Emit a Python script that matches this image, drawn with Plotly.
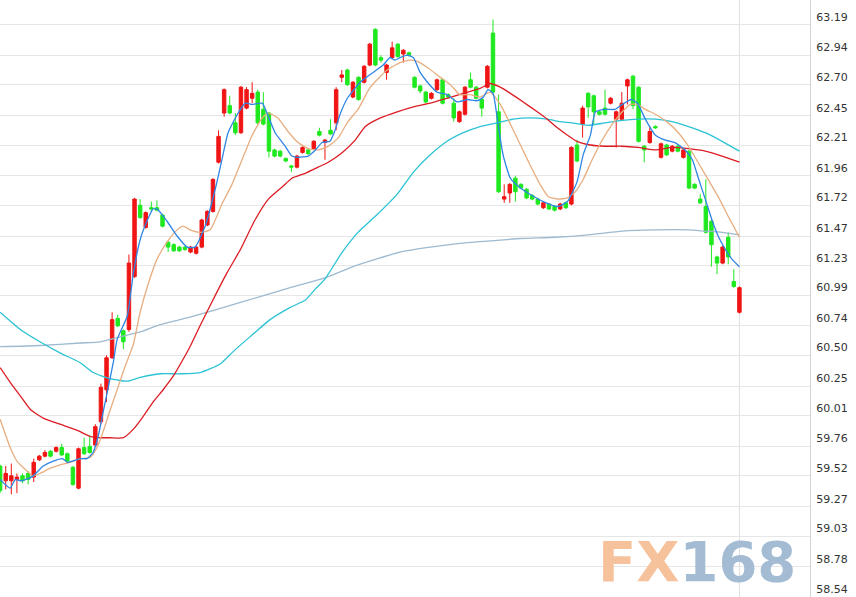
import plotly.graph_objects as go

# ---- candle data (index = candle number, oldest visible first) ----
opens = [59.60, 59.48, 59.48, 59.49, 59.52, 59.54, 59.51, 59.65, 59.68, 59.72,
         59.72, 59.75, 59.70, 59.59, 59.42, 59.75, 59.76, 59.77, 59.96, 60.22,
         60.48, 60.80, 60.70, 60.71, 61.14, 61.72, 61.54, 61.70, 61.70, 61.64,
         61.42, 61.40, 61.38, 61.38, 61.34, 61.33, 61.38, 61.56, 61.67, 62.07,
         62.47, 62.53, 62.39, 62.31, 62.51, 62.59, 62.64, 62.50, 62.47, 62.17,
         62.16, 62.10, 62.04, 62.03, 62.15, 62.17, 62.18, 62.32, 62.23, 62.33,
         62.39, 62.76, 62.82, 62.60, 62.76, 62.72, 62.86, 63.15, 62.92, 62.80,
         62.92, 63.03, 62.95, 62.96, 62.76, 62.69, 62.64, 62.59, 62.66, 62.74,
         62.62, 62.55, 62.40, 62.46, 62.74, 62.68, 62.58, 62.68, 63.12, 62.48,
         61.77, 61.82, 61.94, 61.89, 61.85, 61.80, 61.77, 61.70, 61.73, 61.71,
         61.69, 61.74, 61.73, 62.21, 62.38, 62.63, 62.61, 62.48, 62.51, 62.55,
         62.42, 62.42, 62.69, 62.77, 62.68, 62.20, 62.23, 62.36, 62.11, 62.21,
         62.16, 62.20, 62.11, 62.16, 61.89, 61.77, 61.71, 61.59, 61.30, 61.25,
         61.46, 61.10, 60.85]
highs = [59.61, 59.60, 59.62, 59.54, 59.54, 59.56, 59.66, 59.69, 59.73, 59.73,
         59.76, 59.78, 59.71, 59.60, 59.75, 59.83, 59.85, 59.94, 60.27, 60.50,
         60.85, 60.83, 60.71, 61.32, 61.78, 61.77, 61.67, 61.75, 61.76, 61.65,
         61.43, 61.41, 61.39, 61.39, 61.39, 61.39, 61.61, 61.68, 61.94, 62.33,
         62.67, 62.61, 62.47, 62.69, 62.68, 62.72, 62.66, 62.64, 62.48, 62.18,
         62.17, 62.11, 62.05, 62.13, 62.20, 62.18, 62.25, 62.35, 62.26, 62.42,
         62.68, 62.82, 62.83, 62.73, 62.77, 62.86, 63.04, 63.16, 62.94, 62.87,
         63.05, 63.04, 62.99, 62.97, 62.77, 62.70, 62.65, 62.64, 62.75, 62.75,
         62.63, 62.59, 62.49, 62.69, 62.80, 62.69, 62.59, 62.86, 63.23, 62.62,
         61.89, 61.90, 61.96, 61.90, 61.86, 61.81, 61.78, 61.75, 61.73, 61.72,
         61.74, 61.75, 62.20, 62.25, 62.53, 62.64, 62.62, 62.49, 62.66, 62.60,
         62.49, 62.64, 62.75, 62.78, 62.69, 62.21, 62.36, 62.37, 62.23, 62.22,
         62.21, 62.21, 62.18, 62.17, 61.90, 61.81, 61.93, 61.60, 61.31, 61.39,
         61.50, 61.20, 61.06]
lows = [59.38, 59.41, 59.37, 59.38, 59.46, 59.45, 59.47, 59.64, 59.67, 59.67,
        59.71, 59.68, 59.62, 59.44, 59.41, 59.69, 59.70, 59.76, 59.94, 60.12,
        60.47, 60.73, 60.55, 60.69, 61.13, 61.61, 61.53, 61.67, 61.67, 61.54,
        61.34, 61.34, 61.34, 61.35, 61.33, 61.32, 61.37, 61.55, 61.66, 62.06,
        62.44, 62.46, 62.29, 62.30, 62.50, 62.55, 62.38, 62.37, 62.11, 62.11,
        62.11, 62.07, 61.99, 62.02, 62.14, 62.13, 62.17, 62.28, 62.09, 62.29,
        62.33, 62.72, 62.69, 62.59, 62.57, 62.71, 62.85, 62.85, 62.88, 62.74,
        62.91, 62.92, 62.88, 62.93, 62.67, 62.63, 62.55, 62.58, 62.65, 62.54,
        62.59, 62.40, 62.39, 62.45, 62.67, 62.58, 62.44, 62.67, 62.63, 61.82,
        61.74, 61.74, 61.75, 61.85, 61.77, 61.76, 61.72, 61.69, 61.68, 61.67,
        61.68, 61.69, 61.72, 62.07, 62.27, 62.43, 62.38, 62.45, 62.45, 62.54,
        62.19, 62.41, 62.54, 62.50, 62.23, 62.07, 62.22, 62.34, 62.10, 62.12,
        62.15, 62.15, 62.10, 61.85, 61.85, 61.73, 61.49, 61.22, 61.16, 61.24,
        61.24, 61.05, 60.84]
closes = [59.40, 59.54, 59.52, 59.51, 59.48, 59.49, 59.63, 59.68, 59.71, 59.68,
          59.75, 59.69, 59.64, 59.45, 59.74, 59.70, 59.71, 59.92, 60.24, 60.48,
          60.79, 60.74, 60.61, 61.25, 61.77, 61.62, 61.66, 61.69, 61.68, 61.55,
          61.38, 61.35, 61.35, 61.36, 61.38, 61.38, 61.60, 61.67, 61.93, 62.28,
          62.66, 62.47, 62.31, 62.68, 62.66, 62.63, 62.39, 62.38, 62.16, 62.12,
          62.12, 62.08, 62.03, 62.12, 62.19, 62.14, 62.24, 62.29, 62.25, 62.30,
          62.66, 62.78, 62.70, 62.72, 62.58, 62.85, 63.03, 62.86, 62.90, 62.86,
          63.00, 62.93, 62.98, 62.94, 62.68, 62.65, 62.56, 62.63, 62.74, 62.55,
          62.60, 62.43, 62.48, 62.68, 62.68, 62.59, 62.51, 62.85, 62.64, 61.83,
          61.79, 61.89, 61.83, 61.86, 61.78, 61.77, 61.73, 61.74, 61.69, 61.68,
          61.73, 61.70, 62.19, 62.08, 62.51, 62.52, 62.48, 62.46, 62.46, 62.59,
          62.48, 62.55, 62.74, 62.53, 62.24, 62.17, 62.32, 62.35, 62.22, 62.13,
          62.20, 62.16, 62.17, 61.86, 61.86, 61.74, 61.50, 61.40, 61.25, 61.38,
          61.30, 61.06, 61.05]
candle_idx = list(range(len(opens)))

# ---- moving averages (x in candle units) ----
ma5_x = [0, 1.8, 2.7, 3.6, 4.5, 5.9, 7.7, 9.5, 11.1, 12.0,
         12.9, 14.3, 15.5, 16.6, 17.5, 18.4, 20.2, 20.9, 22.7, 23.8,
         25.0, 26.3, 27.3, 28.0, 29.8, 31.6, 33.4, 34.8, 36.6, 38.4,
         39.6, 40.7, 42.5, 43.8, 45.0, 46.8, 47.9, 49.1, 50.9, 52.1,
         53.2, 55.0, 56.3, 57.5, 58.9, 59.8, 60.7, 62.0, 64.3, 66.6,
         68.4, 69.6, 70.5, 71.4, 72.7, 73.8, 75.0, 76.3, 78.0, 79.8,
         81.6, 83.4, 85.2, 86.3, 87.1, 88.0, 88.9, 89.8, 91.1, 92.9,
         94.6, 97.0, 99.5, 101.3, 103.0, 104.1, 105.4, 106.3, 108.0, 109.8,
         111.1, 112.7, 113.8, 115.2, 117.0, 118.8, 120.5, 122.3, 123.6, 124.6,
         125.9, 127.1, 128.2, 129.5, 130.7, 132.0]
ma5_v = [59.49, 59.42, 59.49, 59.48, 59.49, 59.52, 59.60, 59.64, 59.66, 59.63,
         59.64, 59.66, 59.66, 59.71, 59.84, 60.04, 60.44, 60.63, 60.82, 61.17,
         61.44, 61.60, 61.69, 61.69, 61.59, 61.47, 61.38, 61.38, 61.55, 61.85,
         62.09, 62.31, 62.47, 62.55, 62.54, 62.55, 62.44, 62.31, 62.20, 62.12,
         62.11, 62.12, 62.17, 62.23, 62.24, 62.33, 62.46, 62.59, 62.72, 62.80,
         62.86, 62.92, 62.90, 62.92, 62.94, 62.92, 62.80, 62.72, 62.64, 62.62,
         62.56, 62.58, 62.57, 62.60, 62.66, 62.63, 62.38, 62.13, 61.94, 61.86,
         61.81, 61.75, 61.71, 61.75, 61.91, 62.13, 62.29, 62.48, 62.50, 62.50,
         62.54, 62.58, 62.55, 62.42, 62.29, 62.25, 62.23, 62.17, 62.09, 61.95,
         61.77, 61.60, 61.47, 61.36, 61.28, 61.22]

ma10_x = [0, 1.8, 3.0, 4.8, 5.9, 7.1, 8.9, 10.7, 12.5, 14.3,
          16.1, 17.3, 18.4, 19.6, 20.9, 22.0, 22.9, 23.8, 25.0, 26.3,
          28.0, 29.8, 31.6, 32.7, 33.9, 35.7, 37.5, 39.6, 41.4, 43.2,
          45.0, 46.8, 47.9, 49.6, 51.4, 53.2, 55.0, 56.8, 58.6, 60.4,
          62.1, 63.9, 66.1, 69.1, 71.4, 73.2, 74.5, 76.3, 78.6, 80.4,
          82.1, 83.9, 85.7, 87.5, 89.3, 91.1, 92.9, 94.6, 96.4, 97.9,
          99.6, 101.3, 102.7, 104.1, 105.7, 107.5, 109.3, 111.1, 112.5, 113.8,
          115.2, 117.0, 119.3, 121.1, 122.9, 124.6, 126.4, 128.2, 130.0, 132.0]
ma10_v = [59.98, 59.75, 59.64, 59.56, 59.52, 59.54, 59.58, 59.61, 59.63, 59.66,
          59.67, 59.75, 59.88, 60.05, 60.22, 60.37, 60.48, 60.59, 60.85, 61.06,
          61.28, 61.42, 61.52, 61.55, 61.52, 61.50, 61.52, 61.73, 61.89, 62.09,
          62.29, 62.43, 62.47, 62.43, 62.32, 62.23, 62.18, 62.17, 62.20, 62.27,
          62.40, 62.50, 62.68, 62.82, 62.88, 62.90, 62.89, 62.84, 62.76, 62.70,
          62.62, 62.62, 62.60, 62.64, 62.54, 62.38, 62.21, 62.05, 61.89, 61.79,
          61.77, 61.78, 61.83, 61.93, 62.09, 62.25, 62.38, 62.48, 62.54, 62.54,
          62.50, 62.46, 62.39, 62.31, 62.20, 62.07, 61.93, 61.79, 61.63, 61.46]

ma20_x = [0, 1.8, 3.6, 5.4, 7.7, 10.7, 13.8, 16.1, 17.9, 19.6,
          22.0, 23.8, 25.5, 27.3, 29.1, 30.9, 32.7, 33.9, 35.7, 38.0,
          40.5, 42.9, 45.5, 47.9, 50.4, 52.1, 54.5, 56.8, 58.6, 61.1,
          63.4, 65.2, 67.9, 70.9, 73.8, 76.8, 79.8, 82.7, 85.7, 87.5,
          89.3, 91.1, 93.4, 95.9, 97.7, 99.5, 101.3, 103.0, 105.4, 108.0,
          111.1, 113.9, 117.0, 120.0, 122.9, 125.9, 128.9, 132.0]
ma20_v = [60.40, 60.28, 60.17, 60.06, 59.99, 59.94, 59.89, 59.84, 59.83, 59.83,
          59.83, 59.90, 60.00, 60.12, 60.22, 60.33, 60.47, 60.57, 60.74, 60.95,
          61.17, 61.36, 61.60, 61.77, 61.87, 61.94, 61.98, 62.03, 62.07, 62.15,
          62.25, 62.36, 62.43, 62.48, 62.52, 62.55, 62.59, 62.63, 62.67, 62.71,
          62.68, 62.63, 62.56, 62.48, 62.42, 62.35, 62.29, 62.24, 62.21, 62.20,
          62.20, 62.19, 62.17, 62.19, 62.18, 62.16, 62.12, 62.07]

ma60_x = [0, 3.6, 7.1, 10.7, 14.3, 16.6, 19.6, 22.7, 25.0, 28.6,
          32.1, 35.7, 39.3, 41.6, 44.6, 48.2, 51.8, 54.5, 56.3, 58.0,
          61.1, 63.9, 67.0, 70.9, 73.8, 76.8, 79.8, 82.7, 85.7, 88.8,
          91.6, 94.6, 97.7, 100.0, 102.1, 105.0, 108.0, 111.1, 113.9, 117.0,
          120.0, 122.9, 125.9, 128.9, 132.0]
ma60_v = [60.85, 60.71, 60.61, 60.52, 60.44, 60.36, 60.31, 60.29, 60.32, 60.35,
          60.35, 60.36, 60.43, 60.53, 60.65, 60.79, 60.89, 60.95, 61.04, 61.12,
          61.34, 61.50, 61.63, 61.81, 61.99, 62.13, 62.24, 62.31, 62.36, 62.39,
          62.42, 62.43, 62.42, 62.40, 62.39, 62.37, 62.39, 62.41, 62.42, 62.42,
          62.40, 62.36, 62.31, 62.24, 62.16]

ma120_x = [0, 7.1, 14.3, 17.9, 21.4, 25.0, 28.6, 33.9, 42.9, 51.8,
           58.0, 62.9, 67.0, 71.4, 76.8, 82.1, 87.5, 92.9, 99.1, 105.0,
           111.1, 117.0, 122.9, 125.9, 128.9, 132.0]
ma120_v = [60.57, 60.58, 60.60, 60.61, 60.65, 60.69, 60.75, 60.81, 60.93, 61.05,
           61.13, 61.22, 61.28, 61.34, 61.38, 61.41, 61.43, 61.45, 61.46, 61.48,
           61.51, 61.52, 61.52, 61.51, 61.50, 61.48]

# ---- price axis labels ----
tick_labels = ["63.19", "62.94", "62.70", "62.45", "62.21", "61.96", "61.72",
               "61.47", "61.23", "60.99", "60.74", "60.50", "60.25", "60.01",
               "59.76", "59.52", "59.27", "59.03", "58.78", "58.54"]
tick_vals = [float(t) for t in tick_labels]

for a, b in [(ma5_x, ma5_v), (ma10_x, ma10_v), (ma20_x, ma20_v),
             (ma60_x, ma60_v), (ma120_x, ma120_v)]:
    assert len(a) == len(b)
assert len(opens) == len(highs) == len(lows) == len(closes)

UP = "#f01414"
DOWN = "#1fe81f"

fig = go.Figure()
fig.add_trace(go.Candlestick(
    x=candle_idx, open=opens, high=highs, low=lows, close=closes,
    increasing=dict(line=dict(color=UP, width=1), fillcolor=UP),
    decreasing=dict(line=dict(color=DOWN, width=1), fillcolor=DOWN),
    whiskerwidth=0, showlegend=False, hoverinfo="skip"))

lines = [
    (ma120_x, ma120_v, "#9dbad0"),
    (ma60_x, ma60_v, "#2cc3d5"),
    (ma20_x, ma20_v, "#dc1c24"),
    (ma10_x, ma10_v, "#e8ae80"),
    (ma5_x, ma5_v, "#2f85e4"),
]
for xs, ys, col in lines:
    fig.add_trace(go.Scatter(x=xs, y=ys, mode="lines",
                             line=dict(color=col, width=1.3, shape="spline", smoothing=0.5),
                             showlegend=False, hoverinfo="skip"))

fig.add_shape(type="line", xref="x", yref="paper", x0=132, x1=132, y0=0, y1=1,
              line=dict(color="#dedede", width=1), layer="below")

fig.add_annotation(xref="paper", yref="paper", x=0.861, y=0.059,
                   xanchor="center", yanchor="middle", showarrow=False,
                   text="<b><span style='color:#f6c29c'>FX</span><span style='color:#a3bcd3'>168</span></b>",
                   font=dict(family="DejaVu Sans", size=56))

fig.update_layout(
    width=856, height=597,
    margin=dict(l=0, r=46, t=0, b=0, autoexpand=False),
    paper_bgcolor="white", plot_bgcolor="white",
    showlegend=False, boxgap=0.12, hovermode=False,
    xaxis=dict(range=[-0.02, 144.6], showgrid=False, zeroline=False,
               showticklabels=False, rangeslider=dict(visible=False),
               showline=False, ticks="", automargin=False),
    yaxis=dict(side="right", range=[58.535, 63.389], tickvals=tick_vals,
               ticktext=tick_labels, showgrid=True, gridcolor="#e6e6e6",
               gridwidth=1, zeroline=False, ticks="", automargin=False,
               ticklabelposition="outside top", ticklabelstandoff=3,
               tickfont=dict(family="DejaVu Sans", size=11, color="#333333"),
               showline=True, linecolor="#d4d4d4", linewidth=1),
)

fig.write_html("out.html", config={"displayModeBar": False, "staticPlot": True},
               post_script="document.body.style.margin='0px';document.body.style.padding='0px';")
